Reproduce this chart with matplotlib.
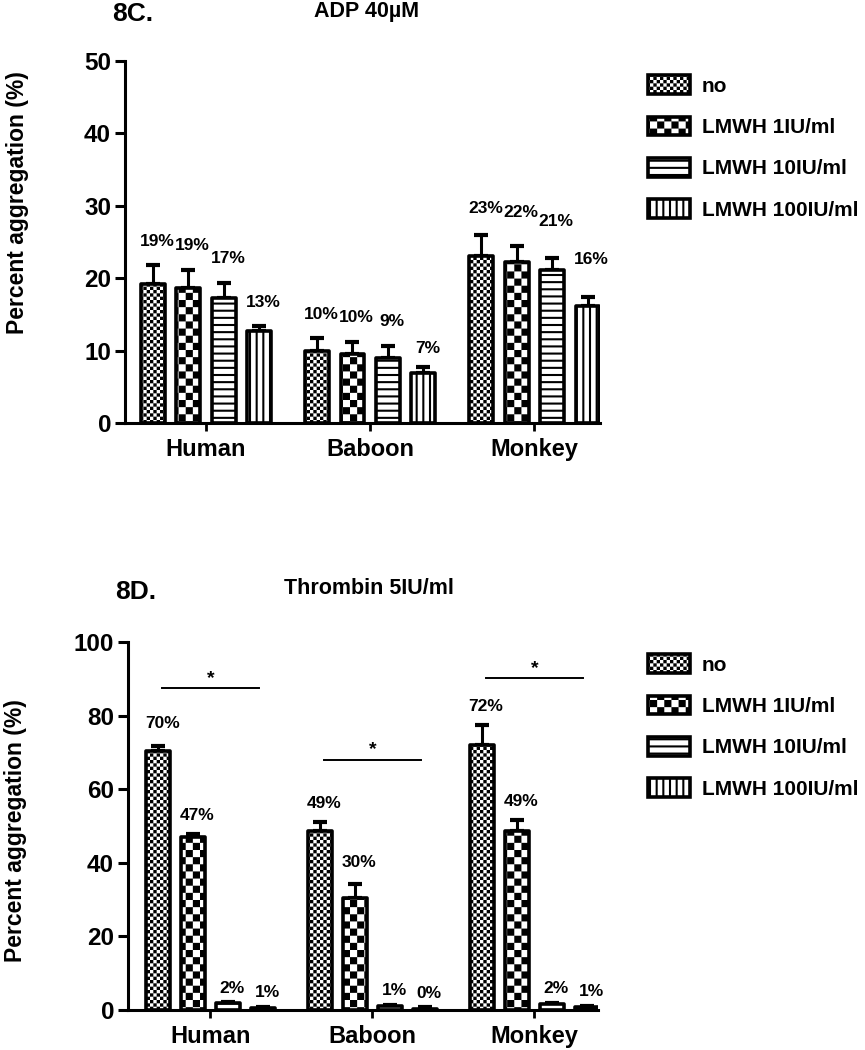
import numpy as np
import matplotlib
matplotlib.use("Agg")
import matplotlib.pyplot as plt
import matplotlib.hatch as mhatch
from matplotlib.path import Path

# ---------------- data ----------------
species = ["Human", "Baboon", "Monkey"]
treatments = ["no", "LMWH 1IU/ml", "LMWH 10IU/ml", "LMWH 100IU/ml"]

# 8C. ADP 40uM  (one list per treatment, values per species)
adp_no = [19.2, 10.0, 23.0]
adp_1 = [18.7, 9.5, 22.3]
adp_10 = [17.2, 9.0, 21.2]
adp_100 = [12.7, 6.9, 16.1]
adp_err_no = [2.6, 1.7, 3.0]
adp_err_1 = [2.5, 1.7, 2.1]
adp_err_10 = [2.2, 1.7, 1.6]
adp_err_100 = [0.7, 0.8, 1.3]

# 8D. Thrombin 5IU/ml
thr_no = [70.3, 48.6, 72.0]
thr_1 = [47.0, 30.3, 48.6]
thr_10 = [1.8, 1.0, 1.6]
thr_100 = [0.6, 0.4, 0.8]
thr_err_no = [1.5, 2.5, 5.4]
thr_err_1 = [0.8, 4.0, 3.0]
thr_err_10 = [0.3, 0.4, 0.4]
thr_err_100 = [0.2, 0.3, 0.4]

thr_sig_heights = [87.5, 68.0, 90.2]

# label placement nudges (points, layout only): [treatment][species]
adp_label_nudge = [[0, 0, 2], [0, 0, 7], [0, 0, 9], [0, -4, 10]]
thr_label_nudge = [[3, 0, 0], [0, 2, 0], [-3, -3, -3], [-3, -3, -3]]

# ---------------- custom hatches ----------------
DPI = 100
HATCH_LW = 1.5
plt.rcParams['hatch.linewidth'] = HATCH_LW
plt.rcParams['hatch.color'] = 'black'
_half = HATCH_LW * DPI / 72.0 / 2.0 / DPI  # stroke half width in hatch units


class _Checker:
    char = '.'
    cells = 30

    def __init__(self, hatch, density):
        self.active = self.char in hatch
        n = self.cells
        self.sq = [(i, j) for i in range(n) for j in range(n)
                   if (i + j) % 2 == 0] if self.active else []
        self.num_vertices = 5 * len(self.sq)

    def set_vertices_and_codes(self, vertices, codes):
        c = 1.0 / self.cells
        s = min(_half, c * 0.4)
        for k, (i, j) in enumerate(self.sq):
            x0, y0 = i * c + s, j * c + s
            x1, y1 = (i + 1) * c - s, (j + 1) * c - s
            vertices[5 * k:5 * k + 5] = [(x0, y0), (x1, y0), (x1, y1), (x0, y1), (x0, y0)]
            codes[5 * k:5 * k + 5] = [Path.MOVETO, Path.LINETO, Path.LINETO,
                                      Path.LINETO, Path.CLOSEPOLY]


class _FineChecker(_Checker):
    char = '.'
    cells = 30


class _CoarseChecker(_Checker):
    char = '*'
    cells = 14


class _Lines:
    char = '-'
    n = 14
    horizontal = True

    def __init__(self, hatch, density):
        self.num_vertices = 2 * self.n if self.char in hatch else 0

    def set_vertices_and_codes(self, vertices, codes):
        steps = (np.arange(self.n) + 0.5) / self.n
        if self.horizontal:
            vertices[0::2, 0] = 0.0
            vertices[0::2, 1] = steps
            vertices[1::2, 0] = 1.0
            vertices[1::2, 1] = steps
        else:
            vertices[0::2, 0] = steps
            vertices[0::2, 1] = 0.0
            vertices[1::2, 0] = steps
            vertices[1::2, 1] = 1.0
        codes[0::2] = Path.MOVETO
        codes[1::2] = Path.LINETO


class _HLines(_Lines):
    char = '-'
    n = 14
    horizontal = True


class _VLines(_Lines):
    char = '|'
    n = 15
    horizontal = False


mhatch._hatch_types = [_FineChecker, _CoarseChecker, _HLines, _VLines]

# ---------------- style ----------------
plt.rcParams['font.family'] = ['Liberation Sans', 'DejaVu Sans']
plt.rcParams['font.weight'] = 'bold'

hatches = ['.', '*', '-', '|']
BAR_W = 0.145
PITCH = 0.216
offsets = (np.arange(4) - 1.5) * PITCH
EDGE_LW = 2.6

fig = plt.figure(figsize=(8.65, 10.5), dpi=DPI)
W, H = 865.0, 1050.0


def px_axes(l, t, r, b):
    return fig.add_axes([l / W, 1 - b / H, (r - l) / W, (b - t) / H])


ax1 = px_axes(125, 61, 600, 423)
ax2 = px_axes(128, 642, 598, 1010)


def draw(ax, series, errs, ymax, ystep, xlim, label_dy, nudge, legend_top):
    x = np.arange(len(species))
    for k, (vals, err) in enumerate(zip(series, errs)):
        xs = x + offsets[k]
        ax.bar(xs, vals, BAR_W, color='white', edgecolor='black',
               linewidth=EDGE_LW, hatch=hatches[k], label=treatments[k],
               joinstyle='round', zorder=2)
        ax.errorbar(xs, vals, yerr=[np.zeros(len(vals)), err], fmt='none',
                    ecolor='black', elinewidth=2.2, capsize=4.7, capthick=3,
                    zorder=1.5)
        for j, (xi, v, e) in enumerate(zip(xs, vals, err)):
            ax.annotate(f"{v:.0f}%", (xi, v + e),
                        xytext=(3, label_dy + nudge[k][j]),
                        textcoords='offset points', ha='center',
                        va='baseline', fontsize=12.5, fontweight='bold')
    ax.set_xlim(*xlim)
    ax.set_ylim(0, ymax)
    ax.set_yticks(np.arange(0, ymax + 1, ystep))
    ax.set_xticks(x)
    ax.set_xticklabels(species, fontsize=17, fontweight='bold')
    for lab in ax.get_yticklabels():
        lab.set_fontsize(17.5)
        lab.set_fontweight('bold')
    for s in ['top', 'right']:
        ax.spines[s].set_visible(False)
    for s in ['left', 'bottom']:
        ax.spines[s].set_linewidth(2.2)
    ax.tick_params(axis='y', length=7, width=2.2, pad=3)
    ax.tick_params(axis='x', length=6, width=2.0, pad=5)
    ax.set_facecolor('none')
    ax.legend(loc='upper left', bbox_to_anchor=(638 / W, 1 - legend_top / H),
              bbox_transform=fig.transFigure, frameon=False, borderpad=0,
              handlelength=2.0, handleheight=1.0,
              labelspacing=1.0, handletextpad=0.55,
              prop={'weight': 'bold', 'size': 15})
    return ax


draw(ax1, [adp_no, adp_1, adp_10, adp_100],
     [adp_err_no, adp_err_1, adp_err_10, adp_err_100],
     50, 10, (-0.494, 2.40), 14, adp_label_nudge, 65)
draw(ax2, [thr_no, thr_1, thr_10, thr_100],
     [thr_err_no, thr_err_1, thr_err_10, thr_err_100],
     100, 20, (-0.509, 2.392), 10, thr_label_nudge, 644)

# significance lines
for i, h in enumerate(thr_sig_heights):
    ax2.plot([i - 0.3, i + 0.3], [h, h], color='black', lw=1.4,
             clip_on=False, zorder=3)
    ax2.annotate('*', (i, h), xytext=(0, 1), textcoords='offset points',
                 ha='center', va='bottom', fontsize=14, fontweight='bold')

# titles and y labels
fig.text(133 / W, 1 - 14 / H, "8C.", fontsize=19, fontweight='bold',
         ha='center', va='center')
fig.text(367 / W, 1 - 12 / H, "ADP 40\u00b5M", fontsize=15.5, fontweight='bold',
         ha='center', va='center')
fig.text(136 / W, 1 - 592 / H, "8D.", fontsize=19, fontweight='bold',
         ha='center', va='center')
fig.text(369 / W, 1 - 588 / H, "Thrombin 5IU/ml", fontsize=15.5,
         fontweight='bold', ha='center', va='center')
fig.text(18 / W, 1 - 203 / H, "Percent aggregation (%)", fontsize=16.5,
         fontweight='bold', rotation=90, ha='center', va='center')
fig.text(16 / W, 1 - 831 / H, "Percent aggregation (%)", fontsize=16.5,
         fontweight='bold', rotation=90, ha='center', va='center')

fig.savefig("out.png", dpi=DPI)
